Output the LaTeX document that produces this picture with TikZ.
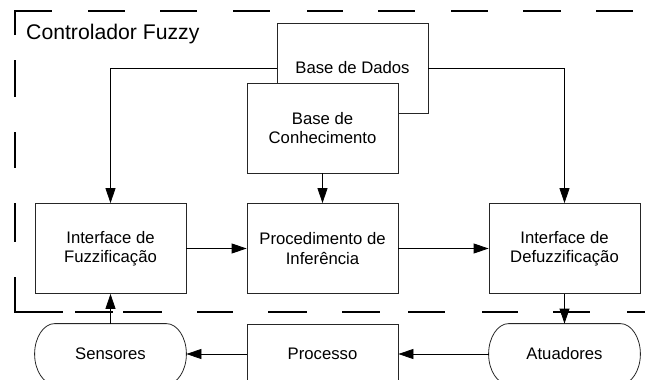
\documentclass[tikz,border=0pt]{standalone}
\usepackage{fontspec}
\setmainfont{Liberation Sans}
\usetikzlibrary{arrows.meta,calc}
\newcommand{\termoutline}[1]{%
  \draw[plain] ($(#1.north west)+(20,0)$) -- ($(#1.north east)+(-20,0)$)
    .. controls ($(#1.north east)+(-9,0)$) and ($(#1.east)+(0,-16.5)$) .. (#1.east)
    .. controls ($(#1.east)+(0,16.5)$) and ($(#1.south east)+(-9,0)$) .. ($(#1.south east)+(-20,0)$)
    -- ($(#1.south west)+(20,0)$)
    .. controls ($(#1.south west)+(9,0)$) and ($(#1.west)+(0,16.5)$) .. (#1.west)
    .. controls ($(#1.west)+(0,-16.5)$) and ($(#1.north west)+(9,0)$) .. ($(#1.north west)+(20,0)$);}
\begin{document}
\begin{tikzpicture}[x=1pt,y=-1pt,
  box/.style={draw=black!85, line width=0.8pt, fill=white, minimum width=151pt,
    minimum height=90pt, inner sep=0pt, align=center,
    font=\fontsize{16.7}{19.5}\selectfont},
  term/.style={box, draw=none, fill=none, minimum height=60pt},
  conn/.style={line width=0.8pt, -{Triangle[length=15pt,width=10pt]}},
  plain/.style={line width=0.8pt, draw=black!85},
  border/.style={line width=1.4pt, line join=miter}]
\useasboundingbox (0,0) rectangle (645,380);
\clip (0,0) rectangle (645,380);
% dashed frame of the controller
\draw[border] (15,35) -- (15,11) -- (52,11);
\foreach \a/\b in {88/125,160/197,233/270,307/343,378/415,451/488,523/561,596/633}
  \draw[border] (\a,11) -- (\b,11);
\foreach \a/\b in {60/97,132/168,203/242}
  \draw[border] (15,\a) -- (15,\b);
\draw[border] (15,277) -- (15,312) -- (63,312);
\foreach \a/\b in {75/113,123/162,197/233,268/307,342/380,408/445,482/518,553/590,627/664}
  \draw[border] (\a,312) -- (\b,312);
\node[anchor=base west, inner sep=0pt, font=\fontsize{21.2}{25}\selectfont] (title) at (26,39) {Controlador Fuzzy};
% blocks
\node[box] (dados) at (352.5,68) {Base de Dados};
\node[box] (conh) at (322.5,128) {Base de\\Conhecimento};
\node[box] (fuzz) at (110.5,248.5) {Interface de\\Fuzzificação};
\node[box] (inf) at (322.5,248.5) {Procedimento de\\Inferência};
\node[box] (defuzz) at (564.5,248.5) {Interface de\\Defuzzificação};
\node[box, minimum height=60pt] (proc) at (322.5,354) {Processo};
\node[term] (sens) at (110.5,354) {Sensores};
\node[term] (atu) at (564.5,354) {Atuadores};
\termoutline{sens}
\termoutline{atu}
% connectors
\draw[conn] (dados.west) -| (fuzz.north);
\draw[conn] (dados.east) -| (defuzz.north);
\draw[conn] (conh.south) -- (inf.north);
\draw[conn] (fuzz) -- (inf);
\draw[conn] (inf) -- (defuzz);
\draw[conn] (defuzz.south) -- (atu.north);
\draw[conn] (atu.west) -- (proc.east);
\draw[conn] (proc.west) -- (sens.east);
\draw[conn] (sens.north) -- (fuzz.south);
\end{tikzpicture}
\end{document}
